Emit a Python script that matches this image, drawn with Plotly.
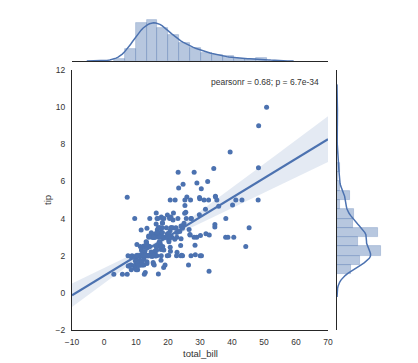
import numpy as np
import plotly.graph_objects as go

total_bill = [16.99,10.34,21.01,23.68,24.59,25.29,8.77,26.88,15.04,14.78,10.27,35.26,15.42,18.43,14.83,21.58,10.33,16.29,16.97,20.65,
17.92,20.29,15.77,39.42,19.82,17.81,13.37,12.69,21.7,19.65,9.55,18.35,15.06,20.69,17.78,24.06,16.31,16.93,18.69,31.27,
16.04,17.46,13.94,9.68,30.4,18.29,22.23,32.4,28.55,18.04,12.54,10.29,34.81,9.94,25.56,19.49,38.01,26.41,11.24,48.27,
20.29,13.81,11.02,18.29,17.59,20.08,16.45,3.07,20.23,15.01,12.02,17.07,26.86,25.28,14.73,10.51,17.92,27.2,22.76,17.29,
19.44,16.66,10.07,32.68,15.98,34.83,13.03,18.28,24.71,21.16,28.97,22.49,5.75,16.32,22.75,40.17,27.28,12.03,21.01,12.46,
11.35,15.38,44.3,22.42,20.92,15.36,20.49,25.21,18.24,14.31,14.0,7.25,38.07,23.95,25.71,17.31,29.93,10.65,12.43,24.08,
11.69,13.42,14.26,15.95,12.48,29.8,8.52,14.52,11.38,22.82,19.08,20.27,11.17,12.26,18.26,8.51,10.33,14.15,16.0,13.16,
17.47,34.3,41.19,27.05,16.43,8.35,18.64,11.87,9.78,7.51,14.07,13.13,17.26,24.55,19.77,29.85,48.17,25.0,13.39,16.49,
21.5,12.66,16.21,13.81,17.51,24.52,20.76,31.71,10.59,10.63,50.81,15.81,7.25,31.85,16.82,32.9,17.89,14.48,9.6,34.63,
34.65,23.33,45.35,23.17,40.55,20.69,20.9,30.46,18.15,23.1,15.69,19.81,28.44,15.48,16.58,7.56,10.34,43.11,13.0,13.51,
18.71,12.74,13.0,16.4,20.53,16.47,26.59,38.73,24.27,12.76,30.06,25.89,48.33,13.27,28.17,12.9,28.15,11.59,7.74,30.14,
12.16,13.42,8.58,15.98,13.42,16.27,10.09,20.45,13.28,22.12,24.01,15.69,11.61,10.77,15.53,10.07,12.6,32.83,35.83,29.03,
27.18,22.67,17.82,18.78]
tip = [1.01,1.66,3.5,3.31,3.61,4.71,2.0,3.12,1.96,3.23,1.71,5.0,1.57,3.0,3.02,3.92,1.67,3.71,3.5,3.35,
4.08,2.75,2.23,7.58,3.18,2.34,2.0,2.0,4.3,3.0,1.45,2.5,3.0,2.45,3.27,3.6,2.0,3.07,2.31,5.0,
2.24,2.54,3.06,1.32,5.6,3.0,5.0,6.0,2.05,3.0,2.5,2.6,5.2,1.56,4.34,3.51,3.0,1.5,1.76,6.73,
3.21,2.0,1.98,3.76,2.64,3.15,2.47,1.0,2.01,2.09,1.97,3.0,3.14,5.0,2.2,1.25,3.08,4.0,3.0,2.71,
3.0,3.4,1.83,5.0,2.03,5.17,2.0,4.0,5.85,3.0,3.0,3.5,1.0,4.3,3.25,4.73,4.0,1.5,3.0,1.5,
2.5,3.0,2.5,3.48,4.08,1.64,4.06,4.29,3.76,4.0,3.0,1.0,4.0,2.55,4.0,3.5,5.07,1.5,1.8,2.92,
2.31,1.68,2.5,2.0,2.52,4.2,1.48,2.0,2.0,2.18,1.5,2.83,1.5,2.0,3.25,1.25,2.0,2.0,2.0,2.75,
3.5,6.7,5.0,5.0,2.3,1.5,1.36,1.63,1.73,2.0,2.5,2.0,2.74,2.0,2.0,5.14,5.0,3.75,2.61,2.0,
3.5,2.5,2.0,2.0,3.0,3.48,2.24,4.5,1.61,2.0,10.0,3.16,5.15,3.18,4.0,3.11,2.0,2.0,4.0,3.55,
3.68,5.65,3.5,6.5,3.0,5.0,3.5,2.0,3.5,4.0,1.5,4.19,2.56,2.02,4.0,1.44,2.0,5.0,2.0,2.0,
4.0,2.01,2.0,2.5,4.0,3.23,3.41,3.0,2.03,2.23,2.0,5.16,9.0,2.5,6.5,1.1,3.0,1.5,1.44,3.09,
2.2,3.48,1.92,3.0,1.58,2.5,2.0,3.0,2.72,2.88,2.0,3.0,3.39,1.47,3.0,1.25,1.0,1.17,4.67,5.92,
2.0,2.0,1.75,3.0]
x_range = [-10, 70]
y_range = [-2, 12]
x_label = "total_bill"
y_label = "tip"
annotation_text = "pearsonr = 0.68; p = 6.7e-34"

x = np.array(total_bill)
y = np.array(tip)
n = len(x)
BLUE = "#4C72B0"
TXT = "#333333"
FONT = "Liberation Sans, Arial, sans-serif"

def fd_bins(a):
    q75, q25 = np.percentile(a, [75, 25])
    h = 2 * (q75 - q25) / len(a) ** (1 / 3)
    return int(np.ceil((a.max() - a.min()) / h))

def kde(a, cut=3, gridsize=100):
    q75, q25 = np.percentile(a, [75, 25])
    A = min(np.std(a, ddof=1), (q75 - q25) / 1.349)
    bw = 1.059 * A * len(a) ** (-0.2)
    g = np.linspace(a.min() - cut * bw, a.max() + cut * bw, gridsize)
    d = np.exp(-0.5 * ((g[:, None] - a[None, :]) / bw) ** 2).sum(1) / (len(a) * bw * np.sqrt(2 * np.pi))
    return g, d

hx, ex = np.histogram(x, bins=fd_bins(x), density=True)
hy, ey = np.histogram(y, bins=fd_bins(y), density=True)
gx, dx = kde(x)
gy, dy = kde(y)

# regression with robust CI
X = np.column_stack([np.ones(n), x])
beta, *_ = np.linalg.lstsq(X, y, rcond=None)
resid = y - X @ beta
XtXi = np.linalg.inv(X.T @ X)
meat = X.T @ (X * (resid ** 2)[:, None])
cov = XtXi @ meat @ XtXi * n / (n - 2)
xg = np.linspace(x_range[0], x_range[1], 100)
Xg = np.column_stack([np.ones_like(xg), xg])
yg = Xg @ beta
se = np.sqrt(np.einsum("ij,jk,ik->i", Xg, cov, Xg))
lo, hi = yg - 1.96 * se, yg + 1.96 * se

W, H = 418, 363
def px(v): return v / W
def py(v): return 1 - v / H

fig = go.Figure()
fig.add_trace(go.Scatter(x=np.concatenate([xg, xg[::-1]]), y=np.concatenate([hi, lo[::-1]]),
                         fill="toself", fillcolor="rgba(76,114,176,0.15)", line=dict(width=0),
                         hoverinfo="skip", mode="lines", xaxis="x", yaxis="y"))
fig.add_trace(go.Scatter(x=x, y=y, mode="markers", marker=dict(color=BLUE, size=5, line=dict(width=0)),
                         xaxis="x", yaxis="y"))
fig.add_trace(go.Scatter(x=xg, y=yg, mode="lines", line=dict(color=BLUE, width=2.2), xaxis="x", yaxis="y"))

fig.add_trace(go.Bar(x=(ex[:-1] + ex[1:]) / 2, y=hx, width=np.diff(ex),
                     marker=dict(color="rgba(76,114,176,0.4)", line=dict(color="rgba(76,114,176,0.35)", width=0.8)),
                     xaxis="x2", yaxis="y2"))
fig.add_trace(go.Scatter(x=gx, y=dx, mode="lines", line=dict(color=BLUE, width=1.5), xaxis="x2", yaxis="y2"))

fig.add_trace(go.Bar(y=(ey[:-1] + ey[1:]) / 2, x=hy, width=np.diff(ey), orientation="h",
                     marker=dict(color="rgba(76,114,176,0.4)", line=dict(color="rgba(76,114,176,0.35)", width=0.8)),
                     xaxis="x3", yaxis="y3"))
fig.add_trace(go.Scatter(x=dy, y=gy, mode="lines", line=dict(color=BLUE, width=1.5), xaxis="x3", yaxis="y3"))

axcommon = dict(showgrid=False, zeroline=False, linecolor="#262626", linewidth=1.3, automargin=False,
                ticks="outside", ticklen=4, tickcolor="rgba(0,0,0,0)",
                tickfont=dict(size=8.5, color=TXT, family=FONT))
xdom = [px(64), px(320)]
ydom = [py(322), py(62)]
fig.update_layout(
    width=W, height=H, margin=dict(l=0, r=0, t=0, b=0),
    paper_bgcolor="white", plot_bgcolor="white", showlegend=False, bargap=0,
    font=dict(family=FONT, color=TXT),
    xaxis=dict(domain=xdom, range=x_range, showline=True, tickvals=list(range(-10, 71, 10)),
               anchor="y", **axcommon),
    yaxis=dict(domain=ydom, range=y_range, showline=True, tickvals=list(range(-2, 13, 2)),
               anchor="x", **axcommon),
    xaxis2=dict(domain=xdom, range=x_range, showline=True, showticklabels=False, anchor="y2", **axcommon),
    yaxis2=dict(domain=[py(53), py(10)], range=[0, max(hx.max(), dx.max()) * 1.05], showline=False,
                showticklabels=False, anchor="x2", **axcommon),
    xaxis3=dict(domain=[px(329), px(375)], range=[0, max(hy.max(), dy.max()) * 1.05], showline=False,
                showticklabels=False, anchor="y3", **axcommon),
    yaxis3=dict(domain=ydom, range=y_range, showline=True, showticklabels=False, anchor="x3", **axcommon),
    annotations=[
        dict(text=annotation_text, x=px(313), y=py(74), xref="paper", yref="paper",
             xanchor="right", yanchor="middle", showarrow=False,
             font=dict(size=8.5, color=TXT, family=FONT)),
        dict(text=x_label, x=px(192), y=py(345), xref="paper", yref="paper",
             xanchor="center", yanchor="middle", showarrow=False,
             font=dict(size=9.5, color=TXT, family=FONT)),
        dict(text=y_label, x=px(39), y=py(192), xref="paper", yref="paper", textangle=-90,
             xanchor="center", yanchor="middle", showarrow=False,
             font=dict(size=9.5, color=TXT, family=FONT)),
    ],
)
fig.write_html("out.html")
